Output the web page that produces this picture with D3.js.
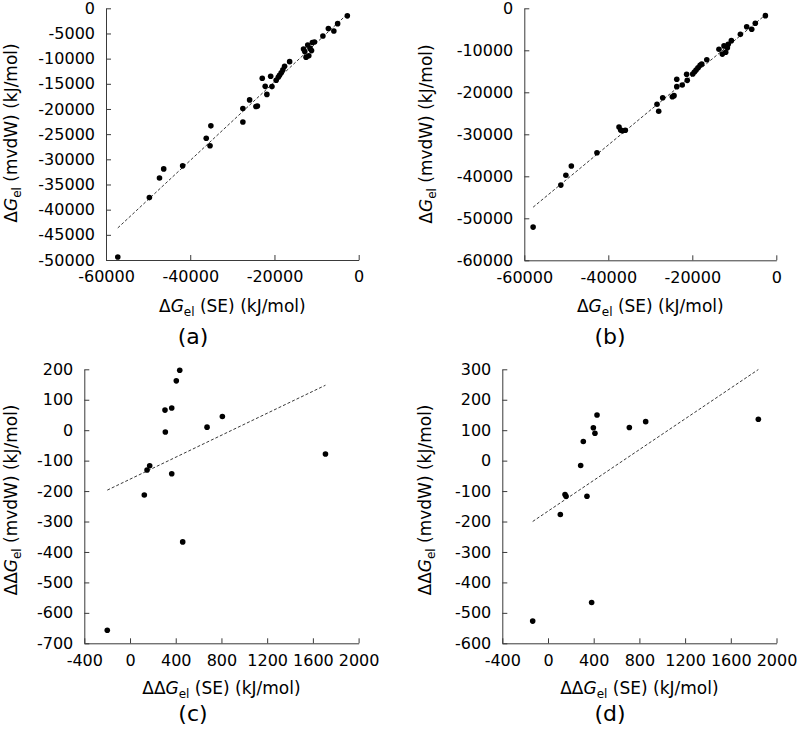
<!DOCTYPE html>
<html>
<head>
<meta charset="utf-8">
<script src="https://cdn.jsdelivr.net/npm/d3@7"></script>
<style>
body { margin: 0; background: #fff; }
text { font-family: "DejaVu Sans", sans-serif; fill: #000; }
</style>
</head>
<body>
<svg id="fig" width="800" height="729"></svg>
<script>
// panel (a): total dG_el, SE vs mvdW
var seA = [-57200, -49700, -47300, -46300, -41800, -36200, -35100, -35300, -27500, -27500, -25900, -24400, -24050, -22900, -22200, -21800, -20900, -20600, -19600, -19100, -18800, -18400, -18000, -17600, -16400, -13100, -12800, -12500, -12100, -11850, -11550, -11200, -11000, -10500, -8500, -7200, -5900, -5000, -2700];
var mvdwA = [-49400, -37600, -33700, -31900, -31300, -25800, -23350, -27300, -19900, -22600, -18200, -19500, -19400, -13900, -15500, -17100, -13500, -15550, -14300, -13700, -13300, -12800, -12200, -11500, -10600, -8100, -8600, -9700, -7300, -9450, -7950, -8400, -6800, -6700, -5500, -4000, -4500, -3050, -1500];

// panel (b)
var seB = [-57900, -51300, -50100, -48800, -42700, -37450, -37050, -36650, -35950, -28400, -28000, -27050, -24750, -24350, -23700, -23700, -22400, -21350, -21200, -19900, -19500, -19100, -18650, -18150, -17750, -16550, -13650, -12850, -12450, -12050, -11650, -11450, -10700, -8550, -7050, -5850, -5000, -2600];
var mvdwB = [-52100, -42100, -39750, -37550, -34400, -28250, -29000, -29150, -29050, -22850, -24500, -21300, -21050, -20800, -18650, -16900, -18250, -15700, -17150, -15650, -15150, -14700, -14150, -13550, -13250, -12250, -9750, -10900, -8950, -10450, -9400, -8550, -7700, -6200, -4400, -5000, -3550, -1750];

// panel (c): ddG_el
var seC = [-199, 125, 149, 172, 306, 309, 365, 365, 405, 435, 461, 674, 808, 1710];
var mvdwC = [-657, -213, -131, -117, 66, -6, 73, -143, 162, 197, -367, 10, 45, -78];

// panel (d)
var seD = [-134, 108, 149, 158, 286, 309, 341, 382, 397, 411, 429, 712, 855, 1841];
var mvdwD = [-527, -177, -111, -117, -16, 63, -117, -466, 108, 90, 150, 109, 128, 136];

// linear fits (slope, intercept) per panel
var fitSlope = [0.7795, 0.8278, 0.1805, 0.2527];
var fitIntercept = [961, 572, -161, -166];

// tick values
var xTicksTop = [-60000, -40000, -20000, 0];
var yTicksA = d3.range(-50000, 1, 5000);
var yTicksB = d3.range(-60000, 1, 10000);
var xTicksBottom = d3.range(-400, 2001, 400);
var yTicksC = d3.range(-700, 201, 100);
var yTicksD = d3.range(-600, 301, 100);

var svg = d3.select("#fig");

var panels = [
	{se: seA, mvdw: mvdwA, xTicks: xTicksTop, yTicks: yTicksA, left: 106, right: 358.7, top: 8.3, bottom: 260,
	 delta: "Δ", yTitleX: 17, yTitleY: 133, xTitleY: 312, tag: "(a)", tagX: 193, tagY: 344},
	{se: seB, mvdw: mvdwB, xTicks: xTicksTop, yTicks: yTicksB, left: 524.3, right: 776.3, top: 8.3, bottom: 260.3,
	 delta: "Δ", yTitleX: 432, yTitleY: 134, xTitleY: 312, tag: "(b)", tagX: 610, tagY: 344},
	{se: seC, mvdw: mvdwC, xTicks: xTicksBottom, yTicks: yTicksC, left: 84.3, right: 358.6, top: 369.3, bottom: 643.3,
	 delta: "ΔΔ", yTitleX: 17, yTitleY: 500, xTitleY: 694, tag: "(c)", tagX: 193, tagY: 721},
	{se: seD, mvdw: mvdwD, xTicks: xTicksBottom, yTicks: yTicksD, left: 502.3, right: 776.5, top: 369.3, bottom: 643.3,
	 delta: "ΔΔ", yTitleX: 431, yTitleY: 500, xTitleY: 694, tag: "(d)", tagX: 610, tagY: 721}
];

var addTitle = function(t, delta, rest){
	t.append('tspan').text(delta);
	t.append('tspan').attr('font-style', 'italic').text('G');
	t.append('tspan').attr('font-size', 12).attr('dy', 4).text('el');
	t.append('tspan').attr('font-size', 17).attr('dy', -4).text(rest);
};

panels.forEach(function(p, i){
	var g = svg.append('g');

	var xScale = d3.scaleLinear()
					.domain(d3.extent(p.xTicks))
					.range([p.left, p.right]);

	var yScale = d3.scaleLinear()
					.domain(d3.extent(p.yTicks))
					.range([p.bottom, p.top]);

	var xAxis = d3.axisBottom(xScale)
					.tickValues(p.xTicks)
					.tickSize(-5)
					.tickSizeOuter(0)
					.tickPadding(11)
					.tickFormat(d => String(d));

	var yAxis = d3.axisLeft(yScale)
					.tickValues(p.yTicks)
					.tickSize(-5)
					.tickSizeOuter(0)
					.tickPadding(11)
					.tickFormat(d => String(d));

	g.append('g')
		.attr('transform', 'translate(0,' + p.bottom + ')')
		.call(xAxis)
		.classed('axes', true);

	g.append('g')
		.attr('transform', 'translate(' + p.left + ',0)')
		.call(yAxis)
		.classed('axes', true);

	g.selectAll('.axes')
		.attr('font-size', 16)
		.attr('font-family', '"DejaVu Sans", sans-serif')
		.attr('color', '#3a3a3a');
	g.selectAll('.axes text').attr('fill', '#000');

	// fitted line across the data range
	var xr = d3.extent(p.se);
	var fit = xr.map(x => [x, fitSlope[i] * x + fitIntercept[i]]);
	g.append('path')
		.datum(fit)
		.attr('fill', 'none')
		.attr('stroke', '#222')
		.attr('stroke-width', 0.9)
		.attr('stroke-dasharray', '3,2')
		.attr('d', d3.line().x(d => xScale(d[0])).y(d => yScale(d[1])));

	g.selectAll('.dot')
		.data(p.se.map((x, k) => [x, p.mvdw[k]]))
		.enter()
		.append('circle')
		.classed('dot', true)
		.attr('cx', d => xScale(d[0]))
		.attr('cy', d => yScale(d[1]))
		.attr('r', 2.8)
		.attr('fill', '#000');

	var xt = g.append('text')
		.attr('x', (p.left + p.right) / 2)
		.attr('y', p.xTitleY)
		.attr('text-anchor', 'middle')
		.attr('font-size', 17);
	addTitle(xt, p.delta, ' (SE) (kJ/mol)');

	var yt = g.append('text')
		.attr('transform', 'translate(' + p.yTitleX + ',' + p.yTitleY + ') rotate(-90)')
		.attr('text-anchor', 'middle')
		.attr('font-size', 17);
	addTitle(yt, p.delta, ' (mvdW) (kJ/mol)');

	g.append('text')
		.attr('x', p.tagX)
		.attr('y', p.tagY)
		.attr('text-anchor', 'middle')
		.attr('font-size', 22)
		.text(p.tag);
});
</script>
</body>
</html>
